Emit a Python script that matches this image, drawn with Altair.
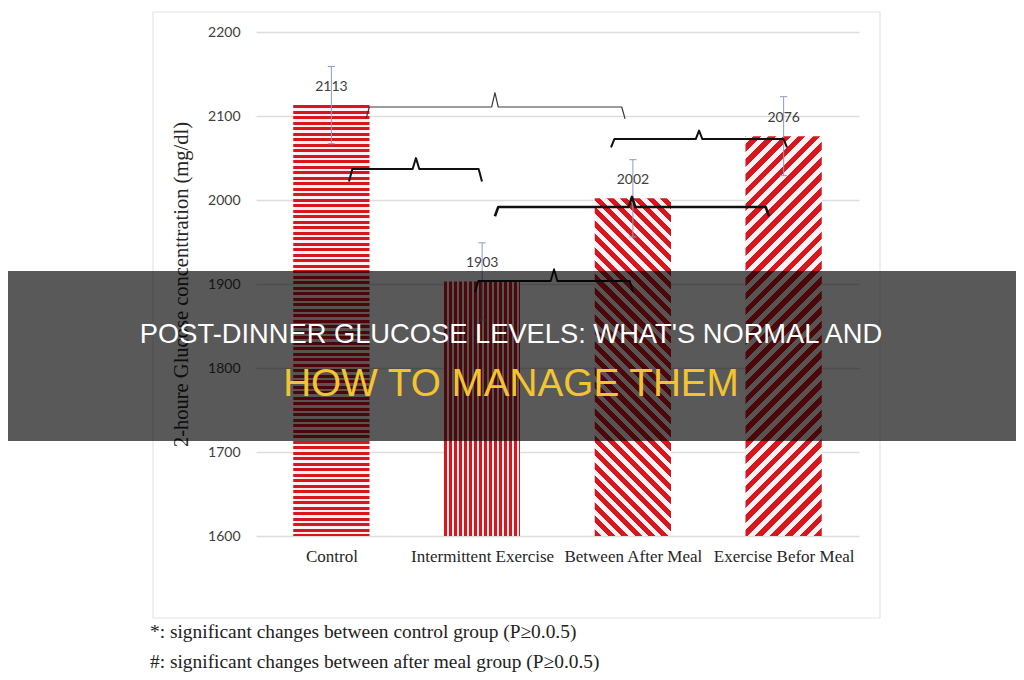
import json
import math
import altair as alt
import pandas as pd

# ---------------- data ----------------
categories = ["Control", "Intermittent Exercise", "Between After Meal", "Exercise Befor Meal"]
values = [2113, 1903, 2002, 2076]
errors = [46, 46, 46, 47]
y_ticks = [1600, 1700, 1800, 1900, 2000, 2100, 2200]
y_title = "2-houre Glucose concenttration (mg/dl)"
footnotes = [
    "*: significant changes between control group (P\u22650.0.5)",
    "#: significant changes between after meal group (P\u22650.0.5)",
]
headline = ["POST-DINNER GLUCOSE LEVELS: WHAT'S NORMAL AND", "HOW TO MANAGE THEM"]

# significance braces: x in category units (0..4 across the plot), y in mg/dl
brace_left = [0.730, 0.617, 2.355, 1.585, 1.453]
brace_mid = [1.585, 1.061, 2.939, 2.494, 1.977]
brace_right = [2.448, 1.499, 3.522, 3.403, 2.501]
brace_level = [2110.7, 2036.9, 2072.6, 1991.7, 1903.6]
brace_drop = [14, 15, 10, 11, 13]
brace_rise = [17, 13, 10, 12, 14]

# ---------------- styles / layout ----------------
brace_width = [1.2, 2.0, 2.0, 2.6, 1.8]
brace_color = ["#3a3a3a", "#111111", "#111111", "#111111", "#111111"]
PLOT_W, PLOT_H = 603, 504
PAD = {"left": 248, "top": 24, "right": 157, "bottom": 144}
N = len(categories)
Y_MIN, Y_MAX = y_ticks[0], y_ticks[-1]
HALF = 0.253
RED = "#d9161d"
GAP = "#fff1f1"
ERR = "#8e9cc2"

bar_w = 2 * HALF * PLOT_W / N
px_y = PLOT_H / (Y_MAX - Y_MIN)


def stripe_stops(total, scale, period, red):
    stops = []
    d = 0.0
    while d < total:
        a = min(d * scale, 1.0)
        b = min((d + red) * scale, 1.0)
        c = min((d + period) * scale, 1.0)
        stops += [
            {"color": RED, "offset": round(a, 5)},
            {"color": RED, "offset": round(b, 5)},
            {"color": GAP, "offset": round(b, 5)},
            {"color": GAP, "offset": round(c, 5)},
        ]
        d += period
    return stops


def pattern(kind, value):
    w = bar_w
    h = (value - Y_MIN) * px_y
    if kind == "h":
        return {"gradient": "linear", "x1": 0, "y1": 0, "x2": 0, "y2": 1,
                "stops": stripe_stops(h, 1 / h, 5.5, 3.4)}
    if kind == "v":
        return {"gradient": "linear", "x1": 0, "y1": 0, "x2": 1, "y2": 0,
                "stops": stripe_stops(w, 1 / w, 5.0, 3.0)}
    # 45-degree stripes: gradient vector sized so that t runs 0..1 across the bar
    lam = w * (w + h) / (w * w + h * h)
    total = (w + h) / math.sqrt(2)
    s = 1 / total
    if kind == "back":
        return {"gradient": "linear", "x1": 0, "y1": 1, "x2": lam, "y2": 1 - lam * h / w,
                "stops": stripe_stops(total, s, 9.5, 5.0)}
    return {"gradient": "linear", "x1": 1, "y1": 1, "x2": 1 - lam, "y2": 1 - lam * h / w,
            "stops": stripe_stops(total, s, 10.5, 5.5)}


kinds = ["h", "v", "back", "fwd"]

df = pd.DataFrame({
    "category": categories,
    "value": values,
    "err": errors,
    "pos": [i + 0.5 for i in range(N)],
})

x_scale = alt.Scale(domain=[0, N], nice=False, zero=False)
y_scale = alt.Scale(domain=[Y_MIN, Y_MAX], nice=False, zero=False)
label_expr = json.dumps(categories) + "[floor(datum.value)]"
x_axis = alt.Axis(values=[i + 0.5 for i in range(N)], labelExpr=label_expr, title=None,
                  grid=False, ticks=False, domain=False, labelFont="Liberation Serif",
                  labelFontSize=17, labelColor="#262626", labelPadding=12,
                  labelOverlap=False, labelFlush=False)
y_axis = alt.Axis(values=y_ticks, format="d", title=y_title, grid=True, gridColor="#dddddd",
                  gridWidth=1.3, ticks=False, domain=False, labelFont="Lato", labelFontSize=14,
                  labelColor="#404040", labelPadding=16, titleFont="Liberation Serif",
                  titleFontSize=20.5, titleFontWeight="normal", titleColor="#262626",
                  titleX=-75, titleY=PLOT_H / 2, titleAlign="center", titleBaseline="middle")


def X(field):
    return alt.X(field, type="quantitative", scale=x_scale, axis=x_axis)


def Y(field):
    return alt.Y(field, type="quantitative", scale=y_scale, axis=y_axis)


base = alt.Chart(df)
layers = []

# bars with hatch-like stripe fills
for cat, val, kind in zip(categories, values, kinds):
    layers.append(
        base.transform_filter(alt.datum.category == cat)
        .transform_calculate(x0=f"datum.pos - {HALF}", x1=f"datum.pos + {HALF}")
        .mark_bar(fill=pattern(kind, val))
        .encode(x=X("x0"), x2="x1:Q", y=Y("value"), y2=alt.datum(Y_MIN))
    )

# value labels
layers.append(
    base.mark_text(dy=-18, font="Lato", fontSize=14, color="#404040", baseline="middle")
    .encode(x=X("pos"), y=Y("value"), text=alt.Text("value:Q", format="d"))
)

# error bars
err_base = base.transform_calculate(lo="datum.value - datum.err", hi="datum.value + datum.err",
                                    cl="datum.pos - 0.024", cr="datum.pos + 0.024")
layers.append(err_base.mark_rule(color=ERR, strokeWidth=1).encode(x=X("pos"), y=Y("lo"), y2="hi:Q"))
layers.append(err_base.mark_rule(color=ERR, strokeWidth=1).encode(x=X("cl"), x2="cr:Q", y=Y("hi")))
layers.append(err_base.mark_rule(color=ERR, strokeWidth=1).encode(x=X("cl"), x2="cr:Q", y=Y("lo")))

# braces
rows = []
e = 0.022
for i in range(len(brace_left)):
    l, m, r, yl = brace_left[i], brace_mid[i], brace_right[i], brace_level[i]
    pts = [(l, yl - brace_drop[i]), (l + e, yl), (m - e, yl), (m, yl + brace_rise[i]),
           (m + e, yl), (r - e, yl), (r, yl - brace_drop[i])]
    for k, (px, py) in enumerate(pts):
        rows.append({"brace": i, "k": k, "bx": px, "by": py,
                     "w": brace_width[i], "c": brace_color[i]})
braces = pd.DataFrame(rows)
layers.append(
    alt.Chart(braces).mark_line(strokeJoin="round", strokeCap="butt").encode(
        x=X("bx"), y=Y("by"), detail="brace:N", order="k:Q",
        strokeWidth=alt.StrokeWidth("w:Q", scale=None),
        color=alt.Color("c:N", scale=None),
    )
)

one = pd.DataFrame({"a": [0]})

# light frame around the chart
layers.append(
    alt.Chart(one).mark_rect(fillOpacity=0, stroke="#e4e4e4", strokeWidth=1.2).encode(
        x=alt.value(-103), x2=alt.value(624), y=alt.value(-20), y2=alt.value(586))
)

# footnotes
for txt, yy in zip(footnotes, [606, 636]):
    layers.append(
        alt.Chart(pd.DataFrame({"t": [txt]})).mark_text(
            align="left", baseline="alphabetic", font="Liberation Serif", fontSize=19.4,
            color="#222222").encode(x=alt.value(-106), y=alt.value(yy), text="t:N")
    )

# dark banner overlay with headline
layers.append(
    alt.Chart(one).mark_rect(fill="#000000", opacity=0.65).encode(
        x=alt.value(-248), x2=alt.value(760), y=alt.value(239), y2=alt.value(409))
)
layers.append(
    alt.Chart(pd.DataFrame({"t": [headline[0]]})).mark_text(
        align="center", baseline="alphabetic", font="Liberation Sans", fontSize=27.3,
        color="#ffffff").encode(x=alt.value(255), y=alt.value(311), text="t:N")
)
layers.append(
    alt.Chart(pd.DataFrame({"t": [headline[1]]})).mark_text(
        align="center", baseline="alphabetic", font="Liberation Sans", fontSize=38.7,
        color="#f4c430").encode(x=alt.value(255), y=alt.value(364), text="t:N")
)

chart = alt.layer(*layers).properties(
    width=PLOT_W, height=PLOT_H, padding=PAD,
    autosize=alt.AutoSizeParams(type="none"), background="#ffffff",
).configure_view(strokeWidth=0)

chart.save("out.html", embed_options={"renderer": "svg", "actions": False})
